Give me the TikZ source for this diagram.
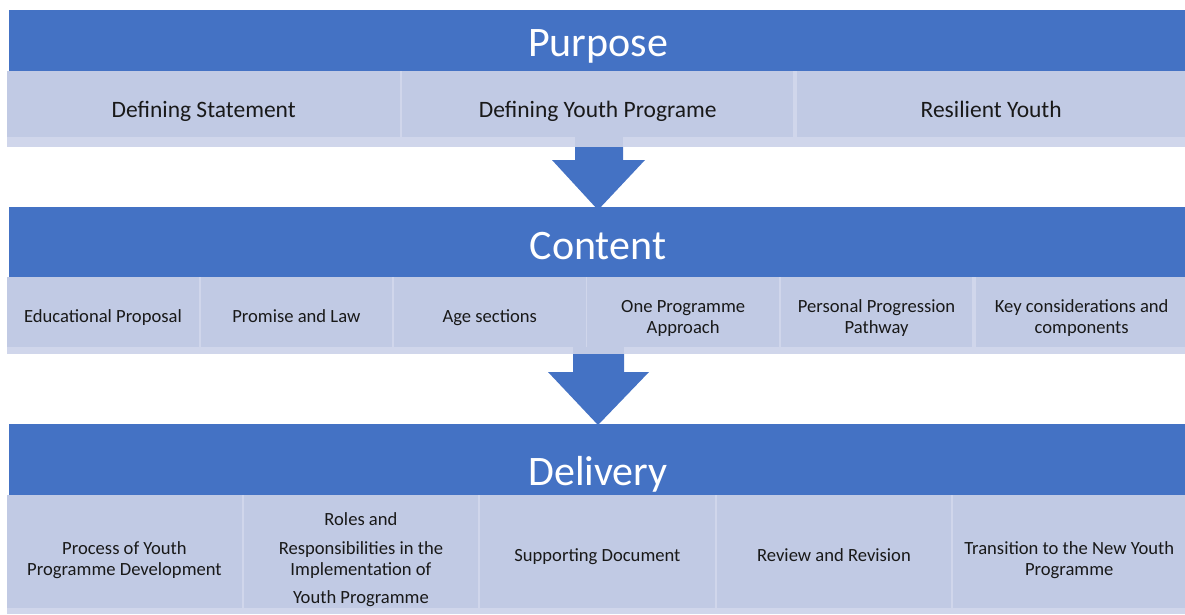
\documentclass[tikz,border=0pt]{standalone}
\usepackage{fontspec}
\setmainfont{Carlito}
\definecolor{hdr}{RGB}{68,114,196}
\definecolor{cellc}{RGB}{193,202,228}
\definecolor{stripc}{RGB}{208,214,235}
\newcommand{\topstrut}{\rule{0pt}{\dimexpr\ht\strutbox+6pt\relax}}
\newcommand{\tallstrut}{\rule{0pt}{\dimexpr\ht\strutbox+12pt\relax}}
\begin{document}
\begin{tikzpicture}[x=1pt,y=-1pt,
  hdrbox/.style={fill=hdr,inner sep=0pt,anchor=north west},
  hdrtext/.style={text=white,inner sep=0pt,anchor=base,
    font=\fontsize{42}{50}\selectfont},
  cell/.style={fill=cellc,inner sep=2pt,anchor=north west,align=center,
    text=black!90,execute at begin node=\topstrut,execute at end node=\strut},
  bigcell/.style={cell,font=\fontsize{23.5}{28}\selectfont},
  smallcell/.style={cell,font=\fontsize{18.6}{21}\selectfont},
  arrowc/.style={fill=hdr}]
\useasboundingbox (0,0) rectangle (1185,614);

% ---------- Purpose ----------
\node[hdrbox,minimum width=1176pt,minimum height=61pt] (purpose) at (9,10) {};
\node[hdrtext] (purposet) at (598,56) {Purpose};
\fill[stripc] (7,71) rectangle (1185,147);
\node[bigcell,minimum width=393pt,minimum height=76pt] (p1) at (7,71) {Defining Statement};
\node[bigcell,minimum width=391pt,minimum height=76pt] (p2) at (402,71) {Defining Youth Programe};
\node[bigcell,minimum width=388pt,minimum height=76pt] (p3) at (797,71) {Resilient Youth};
\fill[stripc] (7,137) rectangle (1185,147);

% ---------- Content ----------
\node[hdrbox,minimum width=1176pt,minimum height=70pt] (content) at (9,207) {};
\node[hdrtext] (contentt) at (598,259) {Content};
\fill[stripc] (7,277) rectangle (1185,354);
\node[smallcell,minimum width=191.5pt,minimum height=77pt] (c1) at (7,277) {Educational Proposal};
\node[smallcell,minimum width=191.5pt,minimum height=77pt] (c2) at (200.4,277) {Promise and Law};
\node[smallcell,minimum width=191.5pt,minimum height=77pt] (c3) at (393.8,277) {Age sections};
\node[smallcell,minimum width=191.5pt,minimum height=77pt] (c4) at (587.2,277) {\topstrut One Programme\\Approach};
\node[smallcell,minimum width=191.5pt,minimum height=77pt] (c5) at (780.6,277) {\topstrut Personal Progression\\Pathway};
\node[smallcell,minimum width=211pt,minimum height=77pt] (c6) at (976,277) {\topstrut Key considerations and\\components};
\fill[stripc] (7,347) rectangle (1185,354);

% ---------- Delivery ----------
\node[hdrbox,minimum width=1176pt,minimum height=71pt] (delivery) at (9,424) {};
\node[hdrtext] (deliveryt) at (598,485) {Delivery};
\fill[stripc] (7,495) rectangle (1185,614);
\node[smallcell,minimum width=234.5pt,minimum height=119pt] (d1) at (7,495) {\tallstrut Process of Youth\\Programme Development};
\node[smallcell,minimum width=234.5pt,minimum height=119pt] (d2) at (243.5,495) {\tallstrut Roles and\\[8pt]Responsibilities in the\\Implementation of\\[7pt]Youth Programme};
\node[smallcell,minimum width=234.5pt,minimum height=119pt] (d3) at (480,495) {Supporting Document};
\node[smallcell,minimum width=234.5pt,minimum height=119pt] (d4) at (716.5,495) {Review and Revision};
\node[smallcell,minimum width=232pt,minimum height=119pt] (d5) at (953,495) {\tallstrut Transition to the New Youth\\Programme};
\fill[stripc] (7,608) rectangle (1185,614);

% ---------- Arrows ----------
\fill[cellc] (575,137) rectangle (623,147);
\fill[arrowc] (575,147) -- (623,147) -- (623,160) -- (645,160) -- (598,210)
  -- (552,160) -- (575,160) -- cycle;
\fill[cellc] (573,347) rectangle (624,354);
\fill[arrowc] (573,354) -- (624,354) -- (624,372) -- (649,372) -- (598,425)
  -- (548,372) -- (573,372) -- cycle;
\end{tikzpicture}
\end{document}
